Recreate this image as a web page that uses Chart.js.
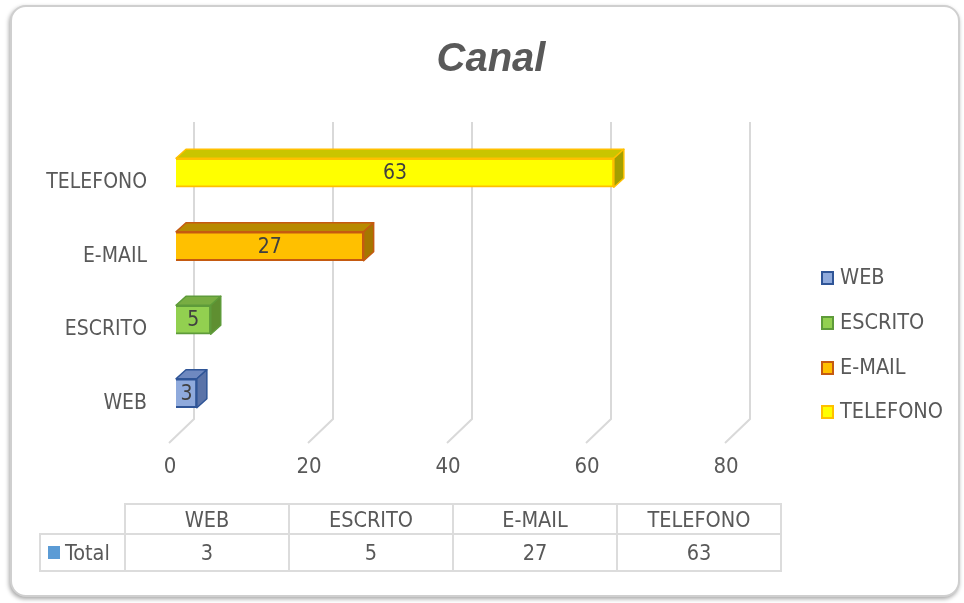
<!DOCTYPE html>
<html lang="es">
<head>
<meta charset="UTF-8">
<title>Canal</title>
<script src="https://cdn.jsdelivr.net/npm/chart.js"></script>
<style>
  body { margin: 0; width: 964px; height: 603px; background: #fff; overflow: hidden; position: relative;
         font-family: "DejaVu Sans Condensed", "Liberation Sans Narrow", sans-serif; color: #595959; }
  #frame { position: absolute; left: 10px; top: 5px; width: 946px; height: 588px; border: 2px solid #cfcfcf;
           border-radius: 16px; box-shadow: -1px 2px 4px rgba(0,0,0,0.35); background: #fff; }
  #chart { position: absolute; left: 0; top: 0; }
  #title { position: absolute; left: 0; width: 982px; top: 37px; line-height: 40px; text-align: center;
           font-family: "Liberation Sans", Arial, sans-serif; font-size: 40px; font-weight: bold; font-style: italic; }
  .leg { position: absolute; left: 821px; height: 22px; line-height: 22px; font-size: 21.5px; white-space: nowrap; }
  .leg span.box { display: inline-block; width: 9px; height: 10px; border: 2px solid; vertical-align: -1px; margin-right: 6px; }
  .cell { position: absolute; box-sizing: border-box; border: 2px solid #dcdcdc; font-size: 21.5px;
          text-align: center; display: flex; align-items: center; justify-content: center; }
</style>
</head>
<body>
<div id="frame"></div>
<canvas id="chart" width="964" height="603"></canvas>
<div id="title">Canal</div>
<div id="legend"></div>
<div id="table"></div>

<script>
const categories = ['WEB', 'ESCRITO', 'E-MAIL', 'TELEFONO'];
const totals = [3, 5, 27, 63];
const xTicks = [0, 20, 40, 60, 80];
const seriesName = 'Total';

// colours per bar: front, border, top face, side face
const faces = ['#8FAADC', '#92D050', '#FFC000', '#FFFF00'];
const borders = ['#2F5597', '#5E9B3A', '#C55A11', '#FFC000'];
const tops = ['#6F89C0', '#78AD42', '#B88A00', '#C9C500'];
const sides = ['#5A73A8', '#5F8F31', '#A57700', '#A3A000'];

const FONT = '"DejaVu Sans Condensed", "Liberation Sans Narrow", sans-serif';
const dx = 10, dy = -9;

const bar3d = {
  id: 'bar3d',
  beforeDatasetsDraw(chart) {
    const ctx = chart.ctx, xs = chart.scales.x, area = chart.chartArea;
    ctx.save();
    ctx.strokeStyle = '#d9d9d9';
    ctx.lineWidth = 2;
    xs.ticks.forEach(t => {
      const px = xs.getPixelForValue(t.value) + 18;
      ctx.beginPath();
      ctx.moveTo(px, area.top - 14);
      ctx.lineTo(px, area.bottom - 11);
      ctx.lineTo(px - 25, area.bottom + 13);
      ctx.stroke();
    });
    ctx.restore();
  },
  afterDatasetsDraw(chart) {
    const ctx = chart.ctx;
    const meta = chart.getDatasetMeta(0);
    ctx.save();
    ctx.lineJoin = 'round';
    meta.data.forEach((bar, i) => {
      const p = bar.getProps(['x', 'y', 'base', 'height'], true);
      const top = p.y - p.height / 2, bot = p.y + p.height / 2;
      ctx.lineWidth = 1.5;
      ctx.strokeStyle = borders[i];
      // top face
      ctx.fillStyle = tops[i];
      ctx.beginPath();
      ctx.moveTo(p.base, top);
      ctx.lineTo(p.base + dx, top + dy);
      ctx.lineTo(p.x + dx, top + dy);
      ctx.lineTo(p.x, top);
      ctx.closePath();
      ctx.fill();
      ctx.stroke();
      // side face
      ctx.fillStyle = sides[i];
      ctx.beginPath();
      ctx.moveTo(p.x, top);
      ctx.lineTo(p.x + dx, top + dy);
      ctx.lineTo(p.x + dx, bot + dy);
      ctx.lineTo(p.x, bot);
      ctx.closePath();
      ctx.fill();
      ctx.stroke();
      // value label
      ctx.fillStyle = '#404040';
      ctx.font = '21px ' + FONT;
      ctx.textAlign = 'center';
      ctx.textBaseline = 'middle';
      ctx.fillText(String(totals[i]), (p.base + p.x) / 2, p.y + 1);
    });
    ctx.restore();
  }
};

new Chart(document.getElementById('chart'), {
  type: 'bar',
  data: {
    labels: categories,
    datasets: [{
      label: seriesName,
      data: totals,
      backgroundColor: faces,
      borderColor: borders,
      borderWidth: 2,
      barThickness: 29
    }]
  },
  options: {
    indexAxis: 'y',
    responsive: false,
    devicePixelRatio: 1,
    animation: false,
    layout: { padding: { left: 0, top: 136, right: 232, bottom: 113 } },
    plugins: { legend: { display: false }, tooltip: { enabled: false } },
    scales: {
      x: {
        min: xTicks[0],
        max: xTicks[xTicks.length - 1],
        ticks: { stepSize: xTicks[1] - xTicks[0], color: '#595959', padding: 24, labelOffset: -6,
                 font: { family: FONT, size: 22 } },
        grid: { display: false, drawTicks: false },
        border: { display: false },
        afterFit: s => { s.height = 60; }
      },
      y: {
        reverse: true,
        ticks: { color: '#595959', padding: 29, labelOffset: 10,
                 font: { family: FONT, size: 21 } },
        grid: { display: false, drawTicks: false },
        border: { display: false },
        afterFit: s => { s.width = 176; }
      }
    }
  },
  plugins: [bar3d]
});

// legend
const legendTops = [266, 311, 356, 400];
const legend = document.getElementById('legend');
categories.forEach((c, i) => {
  const d = document.createElement('div');
  d.className = 'leg';
  d.style.top = legendTops[i] + 'px';
  d.innerHTML = `<span class="box" style="background:${faces[i]};border-color:${borders[i]}"></span>${c}`;
  legend.appendChild(d);
});

// data table
const table = document.getElementById('table');
function cell(x, y, w, h, html) {
  const d = document.createElement('div');
  d.className = 'cell';
  Object.assign(d.style, { left: x + 'px', top: y + 'px', width: w + 'px', height: h + 'px' });
  d.innerHTML = html;
  table.appendChild(d);
  return d;
}
const totalCell = cell(39, 533, 87, 39, `<span style="display:inline-block;width:12px;height:13px;background:#5B9BD5;margin-right:5px"></span>${seriesName}`);
totalCell.style.justifyContent = 'flex-start';
totalCell.style.paddingLeft = '7px';
categories.forEach((c, i) => {
  const x = 124 + i * 164;
  cell(x, 503, 166, 32, c);
  cell(x, 533, 166, 39, String(totals[i]));
});
</script>
</body>
</html>
